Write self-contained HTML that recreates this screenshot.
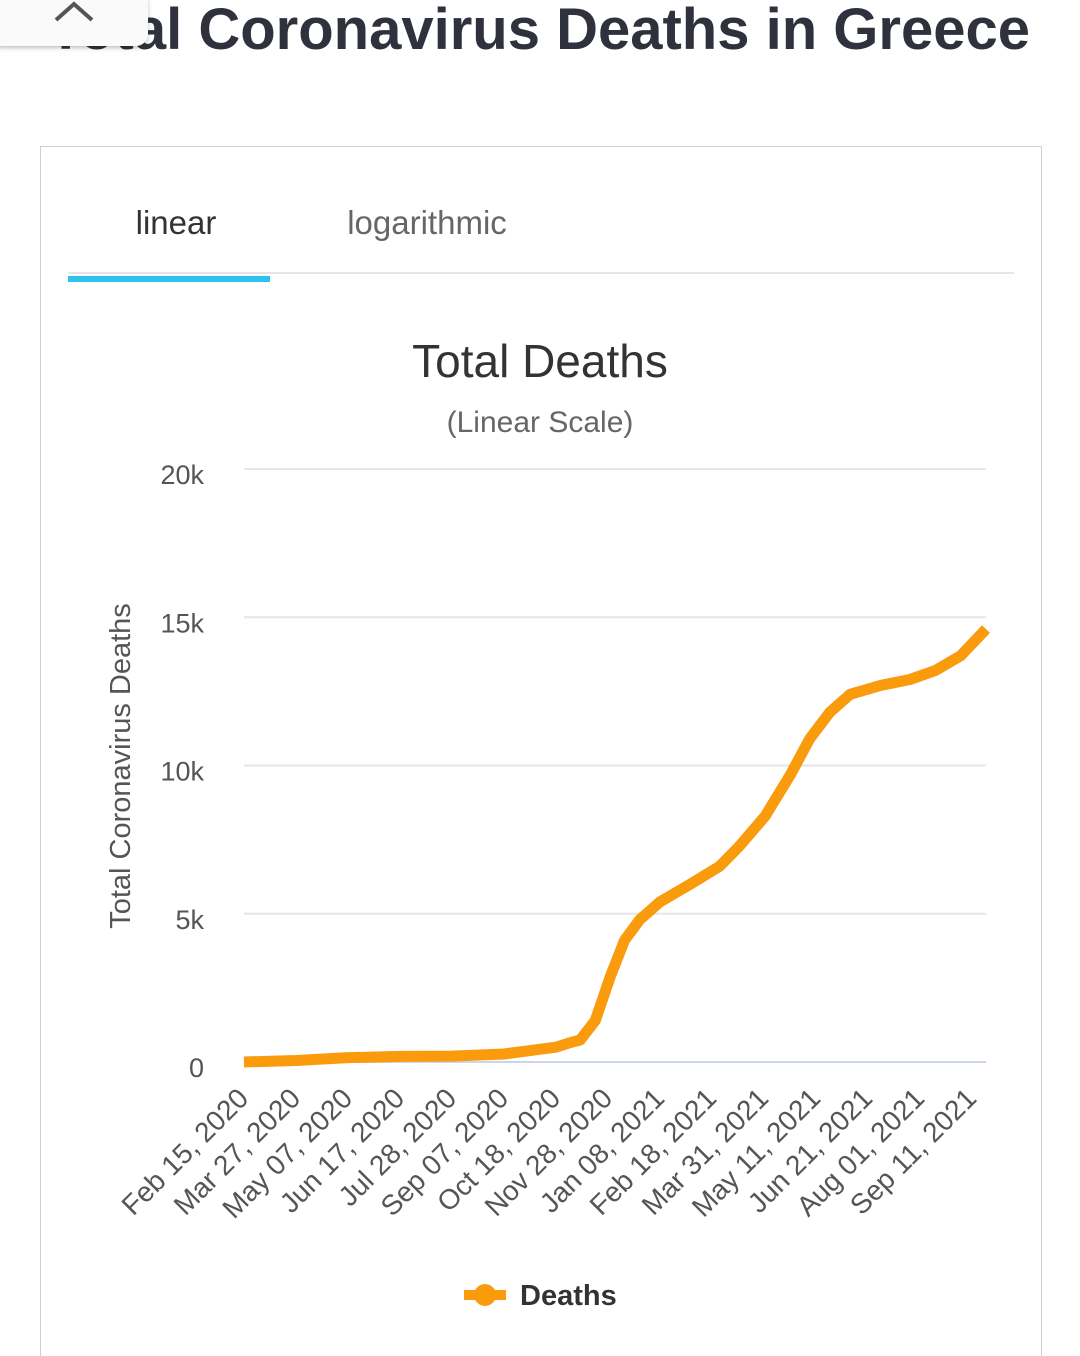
<!DOCTYPE html>
<html><head><meta charset="utf-8"><style>
html,body{margin:0;width:1080px;height:1356px;overflow:hidden}
body{background:#fff;font-family:"Liberation Sans",sans-serif;position:relative}
.card{position:absolute;left:40px;top:146px;width:1002px;height:1210px;border:1.5px solid #d0d0d0;border-bottom:none;box-sizing:border-box}
</style></head><body>
<div style="position:absolute;left:48px;top:-4px;font-size:58px;font-weight:bold;color:#2f313d;white-space:nowrap">Total Coronavirus Deaths in Greece</div>
<div style="position:absolute;left:-10px;top:-10px;width:158px;height:56px;background:#fafafa;border-radius:12px;box-shadow:0 2px 4px rgba(0,0,0,.25)">
<svg width="158" height="56"><polyline points="66,30 84,14 102,30" fill="none" stroke="#555" stroke-width="4"/></svg></div>
<div class="card"></div>
<div style="position:absolute;left:75px;top:204px;width:202px;text-align:center;font-size:33px;color:#333">linear</div>
<div style="position:absolute;left:326px;top:204px;width:202px;text-align:center;font-size:33px;color:#666">logarithmic</div>
<div style="position:absolute;left:68px;top:272px;width:946px;height:1.5px;background:#e6e6e6"></div>
<div style="position:absolute;left:68px;top:276px;width:202px;height:6px;background:#2cc3f0"></div>
<svg id="chart" width="1080" height="1356" style="position:absolute;left:0;top:0"></svg>
<script>
const tickLabels=["Feb 15, 2020","Mar 27, 2020","May 07, 2020","Jun 17, 2020","Jul 28, 2020","Sep 07, 2020","Oct 18, 2020","Nov 28, 2020","Jan 08, 2021","Feb 18, 2021","Mar 31, 2021","May 11, 2021","Jun 21, 2021","Aug 01, 2021","Sep 11, 2021"];
const yTicks=[0,5000,10000,15000,20000];
const yTickLabels=["0","5k","10k","15k","20k"];
const days=[0,41,82,123,164,205,246,257,265,277,289,300,312,328,352,375,391,411,431,446,462,478,502,525,545,565,585];
const deaths=[0,50,150,190,200,270,500,650,740,1400,2900,4100,4800,5400,6000,6600,7300,8300,9700,10900,11800,12400,12700,12900,13200,13700,14600];
const svg=document.getElementById('chart');const NS="http://www.w3.org/2000/svg";
const X=d=>244+d*(52/41), Y=v=>1062-v*(593/20000);
function el(t,a,txt){const e=document.createElementNS(NS,t);for(const k in a)e.setAttribute(k,a[k]);if(txt!=null)e.textContent=txt;svg.appendChild(e);return e;}
let e=el('text',{x:540,y:377,'text-anchor':'middle','font-size':46,fill:'#333'},'Total Deaths');


e=el('text',{x:540,y:432,'text-anchor':'middle','font-size':30,fill:'#666'},'(Linear Scale)');


yTicks.forEach((v,i)=>{
 const g=el('line',{x1:244,x2:986,y1:Y(v),y2:Y(v),stroke:i==0?'#ccd6eb':'#e6e6e6','stroke-width':2});
 
 
 const t=el('text',{x:204,y:Y(v)+15,'text-anchor':'end','font-size':27,fill:'#555'},yTickLabels[i]);
 
 
});
e=el('text',{x:130,y:766,'text-anchor':'middle','font-size':29,fill:'#555',transform:'rotate(-90 130 766)'},'Total Coronavirus Deaths');


tickLabels.forEach((l,i)=>{
 const x=X(i*41)+6,y=1100;
 const t=el('text',{x:x,y:y,'text-anchor':'end','font-size':28,fill:'#555',transform:`rotate(-45 ${x} ${y})`},l);
 
 
});
const pts=days.map((d,i)=>X(d).toFixed(1)+','+Y(deaths[i]).toFixed(1)).join(' ');
e=el('polyline',{points:pts,fill:'none',stroke:'#f99b0c','stroke-width':11,'stroke-linejoin':'round','stroke-linecap':'butt'});


e=el('line',{x1:464,x2:506,y1:1295,y2:1295,stroke:'#f99b0c','stroke-width':10});


e=el('circle',{cx:485,cy:1295,r:11,fill:'#f99b0c'});


e=el('text',{x:520,y:1305,'font-size':29,'font-weight':'bold',fill:'#333'},'Deaths');


</script>
</body></html>
